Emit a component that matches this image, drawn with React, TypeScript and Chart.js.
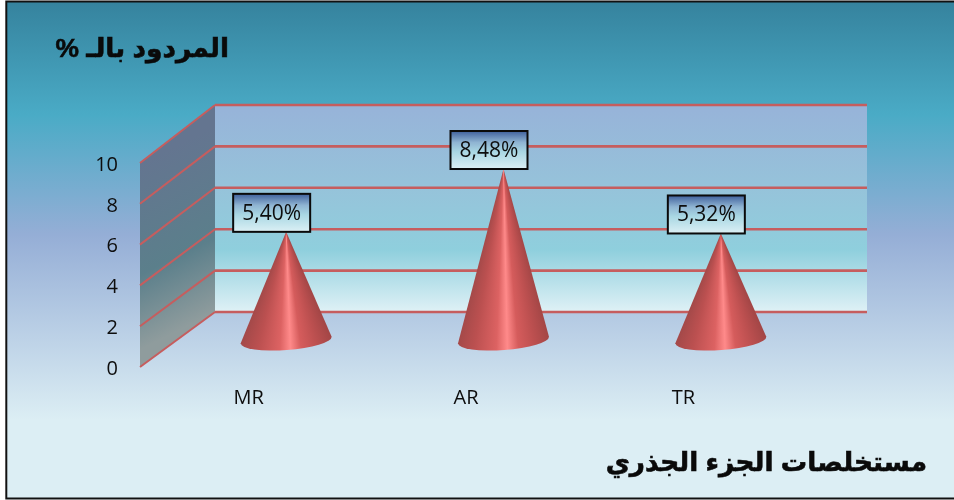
import React, { useEffect, useRef } from "react";
import { Chart, registerables } from "chart.js";

Chart.register(...registerables);

const categories = ["MR", "AR", "TR"];
const yields = [5.4, 8.48, 5.32];
const yTitle = "المردود بالـ %";
const xTitle = "مستخلصات الجزء الجذري";
const yTicks = [0, 2, 4, 6, 8, 10];

const DEPTH_X = 75;
const RED = "#c65d5e";
const latin = '"Open Sans", "Noto Sans", sans-serif';
const arabic = '"Liberation Sans", "DejaVu Sans", sans-serif';

const backY = (y: any, v: number) => y.getPixelForValue(v) - 55 - (3 * v) / 10;

const scenePlugin = {
  id: "scene",
  beforeDraw(chart: any) {
    const { ctx, width, height } = chart;
    ctx.save();
    ctx.fillStyle = "#ffffff";
    ctx.fillRect(0, 0, width, height);
    const g = ctx.createLinearGradient(0, 0, 0, height);
    g.addColorStop(0, "#35829d");
    g.addColorStop(0.23, "#4aabc6");
    g.addColorStop(0.47, "#95aed6");
    g.addColorStop(0.84, "#dceef4");
    g.addColorStop(1, "#dceef4");
    ctx.fillStyle = g;
    ctx.fillRect(6, 1, width - 6, height - 2);
    ctx.strokeStyle = "#111111";
    ctx.lineWidth = 2;
    ctx.beginPath();
    ctx.moveTo(width, 1.5);
    ctx.lineTo(6.3, 1.5);
    ctx.lineTo(6.3, 498.5);
    ctx.lineTo(width, 498.5);
    ctx.stroke();
    ctx.restore();
  },
  beforeDatasetsDraw(chart: any) {
    const { ctx, chartArea, scales } = chart;
    const y = scales.y;
    const l = chartArea.left;
    const r = chartArea.right;
    const bl = l + DEPTH_X;
    const br = r + DEPTH_X;
    const by0 = backY(y, 0);
    const by1 = backY(y, 10);
    ctx.save();
    const wall = ctx.createLinearGradient(0, by1, 0, by0);
    wall.addColorStop(0, "#97b3d9");
    wall.addColorStop(0.4, "#96c3da");
    wall.addColorStop(0.7, "#8fcfdd");
    wall.addColorStop(1, "#dff1f6");
    ctx.fillStyle = wall;
    ctx.fillRect(bl, by1, br - bl, by0 - by1);
    const side = ctx.createLinearGradient(l, y.getPixelForValue(10), bl, by0);
    side.addColorStop(0, "#647590");
    side.addColorStop(0.6, "#5b7f8b");
    side.addColorStop(1, "#8f9c9d");
    ctx.fillStyle = side;
    ctx.beginPath();
    ctx.moveTo(l, y.getPixelForValue(10));
    ctx.lineTo(bl, by1);
    ctx.lineTo(bl, by0);
    ctx.lineTo(l, y.getPixelForValue(0));
    ctx.closePath();
    ctx.fill();
    ctx.strokeStyle = RED;
    for (const v of yTicks) {
      ctx.lineWidth = 2;
      ctx.beginPath();
      ctx.moveTo(l, y.getPixelForValue(v));
      ctx.lineTo(bl, backY(y, v));
      ctx.stroke();
      ctx.lineWidth = 2.6;
      ctx.beginPath();
      ctx.moveTo(bl, backY(y, v));
      ctx.lineTo(br, backY(y, v));
      ctx.stroke();
    }
    ctx.restore();
  },
  afterDatasetsDraw(chart: any) {
    const { ctx, scales } = chart;
    const y = scales.y;
    const meta = chart.getDatasetMeta(0);
    const rx = 45.6;
    const ry = 10;
    const tilt = (-4.2 * Math.PI) / 180;
    meta.data.forEach((bar: any, i: number) => {
      const ax = bar.x + DEPTH_X / 2;
      const ay = bar.y - 25;
      const cx = ax;
      const cy = y.getPixelForValue(0) - 27;
      const Rx = cx + rx * Math.cos(tilt);
      const Ry = cy + rx * Math.sin(tilt);
      const Lx = cx - rx * Math.cos(tilt);
      const Ly = cy - rx * Math.sin(tilt);
      const aR = Math.atan2(Ry - ay, Rx - ax) - 0.02;
      const aL = Math.atan2(Ly - ay, Lx - ax) + 0.02;
      const span = (aL - aR) / (2 * Math.PI);
      const g = ctx.createConicGradient(aR, ax, ay);
      const stops: [number, string][] = [
        [0, "#9e4444"],
        [0.2, "#bd5050"],
        [0.36, "#d55c5c"],
        [0.47, "#ff8a8a"],
        [0.58, "#dc6262"],
        [0.8, "#bb5050"],
        [1, "#a04848"],
      ];
      stops.forEach(([t, c]) => g.addColorStop(t * span, c));
      ctx.save();
      ctx.fillStyle = g;
      ctx.beginPath();
      ctx.moveTo(ax, ay);
      ctx.lineTo(Rx, Ry);
      ctx.ellipse(cx, cy, rx, ry, tilt, 0, Math.PI);
      ctx.closePath();
      ctx.fill();
      ctx.restore();

      const boxW = 77;
      const boxH = 38;
      const boxX = ax - 14.5 - boxW / 2;
      const boxY = ay - boxH;
      const bg = ctx.createLinearGradient(0, boxY, 0, boxY + boxH);
      bg.addColorStop(0, "#3f609c");
      bg.addColorStop(0.3, "#8fb4d2");
      bg.addColorStop(0.55, "#a9d7e3");
      bg.addColorStop(1, "#dcf0f5");
      ctx.save();
      ctx.fillStyle = bg;
      ctx.fillRect(boxX, boxY, boxW, boxH);
      ctx.strokeStyle = "#0a0a0a";
      ctx.lineWidth = 2;
      ctx.strokeRect(boxX, boxY, boxW, boxH);
      ctx.fillStyle = "#0d0d0d";
      ctx.font = `21px ${latin}`;
      ctx.textAlign = "center";
      ctx.textBaseline = "middle";
      ctx.fillText(yields[i].toFixed(2).replace(".", ",") + "%", boxX + boxW / 2, boxY + boxH / 2 + 1);
      ctx.restore();
    });

    ctx.save();
    ctx.fillStyle = "#0a0a0a";
    ctx.strokeStyle = "#0a0a0a";
    ctx.lineWidth = 0.6;
    ctx.font = `bold 26.4px ${arabic}`;
    ctx.direction = "rtl";
    ctx.textAlign = "right";
    ctx.textBaseline = "alphabetic";
    ctx.fillText(yTitle, 229, 57);
    ctx.strokeText(yTitle, 229, 57);
    ctx.fillText(xTitle, 927, 471);
    ctx.strokeText(xTitle, 927, 471);
    ctx.restore();
  },
};

export default function App() {
  const ref = useRef<HTMLCanvasElement | null>(null);
  useEffect(() => {
    const chart = new Chart(ref.current as HTMLCanvasElement, {
      type: "bar",
      data: {
        labels: categories,
        datasets: [{ data: yields, backgroundColor: "transparent", borderWidth: 0 }],
      },
      plugins: [scenePlugin],
      options: {
        animation: false,
        responsive: false,
        layout: { padding: { left: 0, right: 162, top: 163, bottom: 0 } },
        plugins: { legend: { display: false }, tooltip: { enabled: false }, title: { display: false } },
        scales: {
          x: {
            afterFit: (s: any) => { s.height = 133; },
            grid: { display: false, drawTicks: false },
            border: { display: false },
            ticks: { padding: 19, color: "#0d0d0d", font: { family: latin, size: 20 }, maxRotation: 0 },
          },
          y: {
            min: 0,
            max: 10,
            afterFit: (s: any) => { s.width = 140; },
            grid: { display: false, drawTicks: false },
            border: { display: false },
            afterBuildTicks: (s: any) => { s.ticks = yTicks.map((value) => ({ value })); },
            ticks: { padding: 22, labelOffset: 2, color: "#0d0d0d", font: { family: latin, size: 20 } },
          },
        },
      },
    } as any);
    return () => chart.destroy();
  }, []);
  return (
    <div style={{ position: "fixed", left: 0, top: 0, width: 954, height: 500 }}>
      <canvas ref={ref} width={954} height={500} style={{ display: "block" }} />
    </div>
  );
}
